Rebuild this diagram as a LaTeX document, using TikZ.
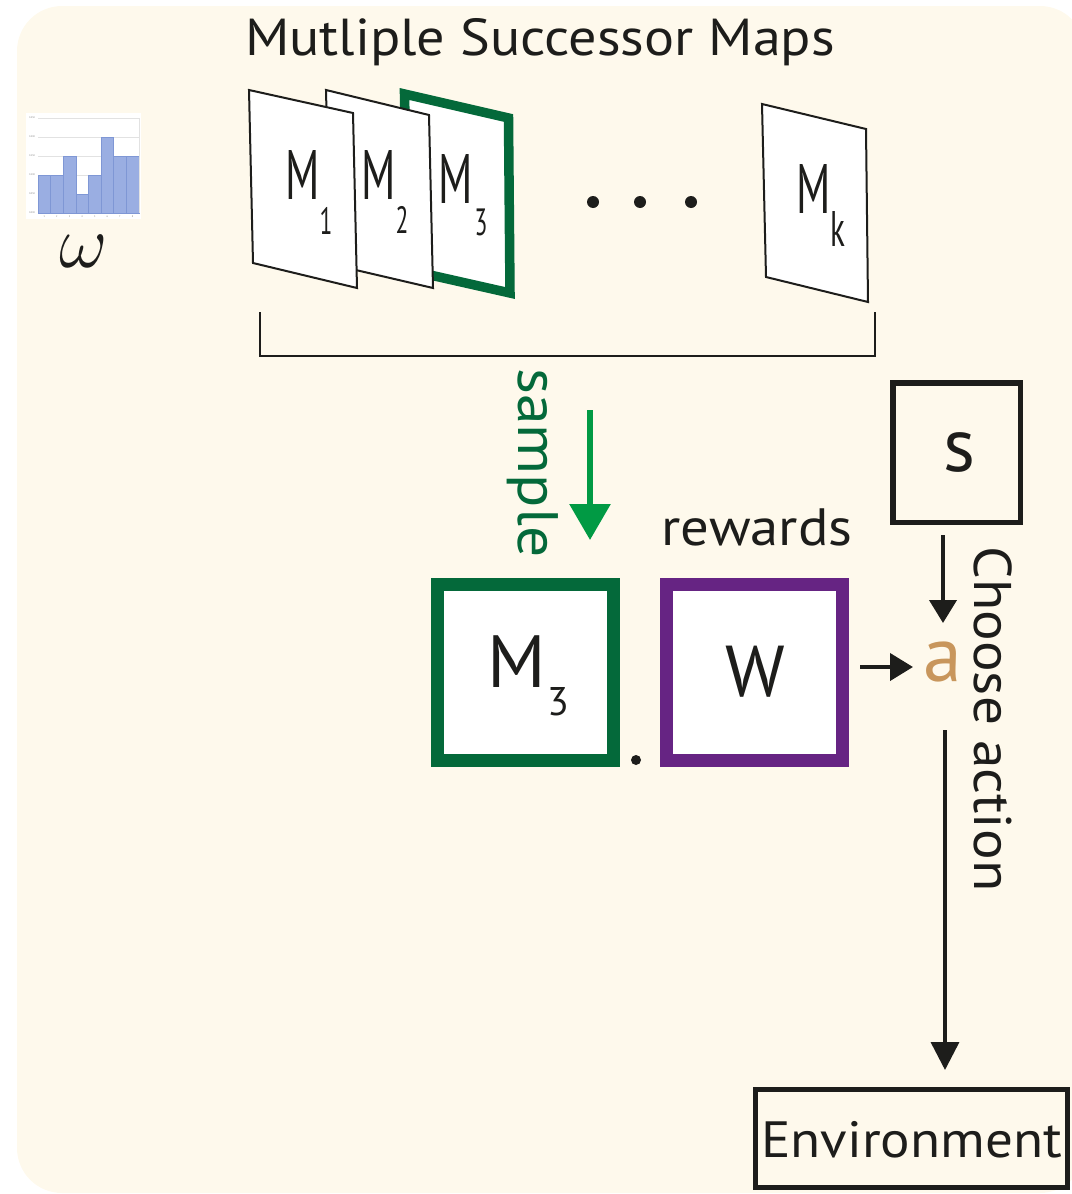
\documentclass[tikz,border=0pt]{standalone}
\usepackage{fontspec}
\setmainfont{PT Sans}
\newfontfamily\widef{PT Sans}[FakeStretch=1.08]
\usetikzlibrary{arrows.meta}
\definecolor{bg}{HTML}{FEF9EC}
\definecolor{ink}{HTML}{1D1D1B}
\definecolor{dkgreen}{HTML}{04693A}
\definecolor{ltgreen}{HTML}{019A44}
\definecolor{purp}{HTML}{662483}
\definecolor{tan}{HTML}{C8965C}
\definecolor{barfill}{HTML}{9AAEE2}
\definecolor{barline}{HTML}{7F97D5}
\definecolor{gridc}{HTML}{E2E2E2}
\newcommand\fs[1]{\fontsize{#1}{#1}\selectfont}
\tikzset{
  lbl/.style={inner sep=0pt, text=ink},
  page/.style={fill=white, draw=ink, line width=2pt, line join=miter},
  sqbox/.style={fill=white, line width=13pt, minimum size=176pt, inner sep=0pt},
  blkbox/.style={draw=ink, line width=5.5pt, inner sep=0pt},
  arr/.style={-{Triangle[width=27pt,length=23pt]}, line width=4pt, draw=ink},
}
\begin{document}
\begin{tikzpicture}[x=1pt,y=-1pt]
\useasboundingbox (0,0) rectangle (1071,1194);
\fill[bg, rounded corners=45pt] (17,6) rectangle (1085,1193);

% title
\node[lbl, anchor=base, font=\widef\fs{52}] (title) at (540,55) {Mutliple Successor Maps};

% histogram
\fill[white] (26,113) rectangle (141,219);
\foreach \v in {0,0.05,0.1,0.15,0.2,0.25}{
  \draw[gridc, line width=0.6pt] (38,{213-380*\v}) -- (139,{213-380*\v});
}
\foreach \i/\v in {0/0.1,1/0.1,2/0.15,3/0.05,4/0.1,5/0.2,6/0.15,7/0.15}{
  \filldraw[fill=barfill, draw=barline, line width=0.5pt] ({38+12.6*\i},213) rectangle ({38+12.6*(\i+1)},{213-380*\v});
}
\draw[gridc, line width=0.6pt] (139,118) -- (139,213);
\foreach \v/\t in {0/0.000,0.05/0.050,0.1/0.100,0.15/0.150,0.2/0.200,0.25/0.250}{
  \node[lbl, font=\fs{2.5}, text=gray] at (32,{213-380*\v}) {\t};
}
\foreach \i in {1,...,8}{
  \node[lbl, font=\fs{2.5}, text=gray] at ({38+12.6*\i-6.3},216.5) {\i};
}
\node[lbl] (omega) at (84,251) {\scalebox{3.6}{\fs{20}$\omega$}};

% stacked maps
\filldraw[fill=white, draw=dkgreen, line width=9.5pt, line join=miter] (404.5,94) -- (508.5,118) -- (510,293) -- (408,270) -- cycle;
\filldraw[page] (326,90) -- (429,115) -- (433,288) -- (330,264) -- cycle;
\filldraw[page] (249,90) -- (353,113) -- (357,288) -- (253,263) -- cycle;
\filldraw[page] (762,104) -- (866,129) -- (868,302) -- (766,277) -- cycle;

\node[lbl, font=\fs{70}] (m1) at (303,175) {\scalebox{0.62}[1]{M}};
\node[lbl, font=\fs{38}] (m1s) at (326,221) {\scalebox{0.62}[1]{1}};
\node[lbl, font=\fs{70}] (m2) at (379,175) {\scalebox{0.62}[1]{M}};
\node[lbl, font=\fs{38}] (m2s) at (402,220) {\scalebox{0.62}[1]{2}};
\node[lbl, font=\fs{70}] (m3) at (456,179) {\scalebox{0.62}[1]{M}};
\node[lbl, font=\fs{38}] (m3s) at (481,222) {\scalebox{0.62}[1]{3}};
\node[lbl, font=\fs{70}] (mk) at (814,189) {\scalebox{0.62}[1]{M}};
\node[lbl, font=\fs{50}] (mks) at (838,229) {\scalebox{0.62}[1]{k}};

\foreach \x in {593,640,691}{ \fill[ink] (\x,202) circle (6pt); }

% bracket
\draw[ink, line width=2.2pt] (260,312) -- (260,356) -- (875,356) -- (875,312);

% sample
\node[lbl, rotate=-90, text=dkgreen, font=\widef\fs{57}] (sample) at (533,463) {sample};
\coordinate (st) at (590,410);
\coordinate (se) at (590,540);
\draw[ltgreen, line width=6pt, -{Triangle[width=40pt,length=36pt]}] (st) -- (se);

% M3 . W
\node[sqbox, draw=dkgreen] (bigm) at (525.5,672) {};
\node[lbl, font=\fs{74}] (bigmm) at (517,662) {M};
\node[lbl, font=\fs{40}] (bigm3) at (558,702) {3};
\fill[ink] (636,760) circle (5pt);
\node[sqbox, draw=purp] (w) at (754.5,672.5) {};
\node[lbl, font=\fs{72}] (wt) at (755,672) {W};
\node[lbl, anchor=base, font=\widef\fs{52.5}] (rew) at (757,545) {rewards};

% s, a
\node[blkbox, minimum width=127.5pt, minimum height=139.5pt] (s) at (956.5,452.5) {};
\node[lbl, font=\fs{76}] (st2) at (959,452) {s};
\node[lbl, text=tan, font=\fs{78}] (a) at (943,662) {a};
\node[lbl, rotate=-90, font=\widef\fs{53}] (choose) at (993,719) {Choose action};

\coordinate (s1) at (943,535);
\coordinate (s2) at (943,623);
\draw[arr] (s1) -- (s2);
\coordinate (w1) at (860,667);
\coordinate (w2) at (913,667);
\draw[arr] (w1) -- (w2);

% environment
\node[blkbox, minimum width=312pt, minimum height=98pt] (env) at (911.5,1138.5) {};
\node[lbl, anchor=base west, font=\widef\fs{51}] (envt) at (761,1157) {Environment};
\coordinate (e1) at (945,730);
\coordinate (e2) at (945,1070);
\draw[ink, line width=3.5pt, -{Triangle[width=28pt,length=28pt]}] (e1) -- (e2);
\end{tikzpicture}
\end{document}
